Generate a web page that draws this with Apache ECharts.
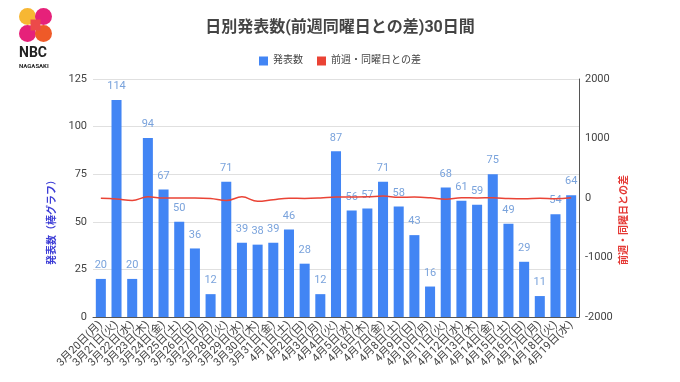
<!DOCTYPE html>
<html><head><meta charset="utf-8">
<script src="https://cdn.jsdelivr.net/npm/echarts@6/dist/echarts.min.js"></script>
<style>html,body{margin:0;padding:0;background:#fff}#c{width:680px;height:382px}</style>
</head><body><div id="c"></div>
<script>
const categories = ["3月20日(月)","3月21日(火)","3月22日(水)","3月23日(木)","3月24日(金)","3月25日(土)","3月26日(日)","3月27日(月)","3月28日(火)","3月29日(水)","3月30日(木)","3月31日(金)","4月1日(土)","4月2日(日)","4月3日(月)","4月4日(火)","4月5日(水)","4月6日(木)","4月7日(金)","4月8日(土)","4月9日(日)","4月10日(月)","4月11日(火)","4月12日(水)","4月13日(木)","4月14日(金)","4月15日(土)","4月16日(日)","4月17日(月)","4月18日(火)","4月19日(水)"];
const announced = [20,114,20,94,67,50,36,12,71,39,38,39,46,28,12,87,56,57,71,58,43,16,68,61,59,75,49,29,11,54,64];
const diffPrevWeek = [-3,-15,-40,20,0,0,0,-8,-43,19,-56,-28,-4,-8,0,16,17,19,32,12,15,4,-19,5,2,4,-9,-14,-5,-14,3];
const leftTicks = {min:0, max:125, interval:25};
const rightTicks = {min:-2000, max:2000, interval:1000};

const FONT = "Roboto, 'Noto Sans CJK JP', sans-serif";
const chart = echarts.init(document.getElementById('c'), null, {renderer:'canvas'});
chart.setOption({
  animation:false,
  textStyle:{fontFamily:FONT},
  title:{text:'日別発表数(前週同曜日との差)30日間', left:'center', top:15,
    textStyle:{fontSize:16, fontWeight:'bold', color:'#444', fontFamily:FONT}},
  legend:{top:51, left:'center', itemWidth:9, itemHeight:9, itemGap:14, icon:'rect',
    textStyle:{fontSize:10, color:'#444', fontFamily:FONT},
    data:['発表数','前週・同曜日との差']},
  grid:{left:93, right:101, top:79, bottom:65},
  xAxis:{type:'category', data:categories,
    axisLine:{lineStyle:{color:'#555'}}, axisTick:{show:false},
    axisLabel:{rotate:45, interval:0, fontSize:11, color:'#444', margin:6, fontFamily:FONT}},
  yAxis:[
    {type:'value', min:leftTicks.min, max:leftTicks.max, interval:leftTicks.interval,
     name:'発表数（棒グラフ）', nameLocation:'middle', nameGap:36, nameRotate:90,
     nameTextStyle:{color:'#3d3dd6', fontSize:10, fontWeight:'bold', padding:[0,44,0,0]},
     axisLine:{show:false}, axisTick:{show:false},
     axisLabel:{fontSize:11, color:'#444', margin:6},
     splitLine:{lineStyle:{color:'#e0e0e0'}}},
    {type:'value', min:rightTicks.min, max:rightTicks.max, interval:rightTicks.interval, position:'right',
     axisLine:{show:true, lineStyle:{color:'#555'}}, axisTick:{show:false},
     axisLabel:{fontSize:11, color:'#444', margin:6, formatter:function(v){return String(v);}},
     splitLine:{show:false}}
  ],
  series:[
    {name:'発表数', type:'bar', data:announced, barWidth:'64%', itemStyle:{color:'#4285f4'},
     label:{show:true, position:'top', distance:8, fontSize:11, color:'#7aa3dc'}},
    {name:'前週・同曜日との差', type:'line', yAxisIndex:1, data:diffPrevWeek, smooth:0.4,
     showSymbol:false, symbol:'none', itemStyle:{color:'#ea4335'}, lineStyle:{color:'#ea4335', width:1.5}, z:3}
  ],
  graphic:[
    {type:'group', left:19, top:8, children:[
      {type:'circle', shape:{cx:9, cy:9, r:8.5}, style:{fill:'#f7b733'}},
      {type:'circle', shape:{cx:25, cy:9, r:8.5}, style:{fill:'#e6217a'}},
      {type:'circle', shape:{cx:9, cy:26, r:8.5}, style:{fill:'#e6217a'}},
      {type:'circle', shape:{cx:25, cy:26, r:8.5}, style:{fill:'#ef5a28'}},
      {type:'rect', shape:{x:12, y:12, width:10, height:11}, style:{fill:'#ec4a4a'}}
    ]},
    {type:'text', left:19, top:47, style:{text:'NBC', fontSize:14, fontWeight:'bold', fill:'#222', fontFamily:FONT}},
    {type:'text', left:19, top:63, style:{text:'NAGASAKI', fontSize:6, fontWeight:'bold', fill:'#222', fontFamily:FONT}},
    {type:'text', x:624, y:220, rotation:Math.PI/2,
     style:{text:'前週・同曜日との差', fontSize:10, fontWeight:'bold', fill:'#e53935', fontFamily:FONT, align:'center', verticalAlign:'middle'}}
  ]
});
</script></body></html>
